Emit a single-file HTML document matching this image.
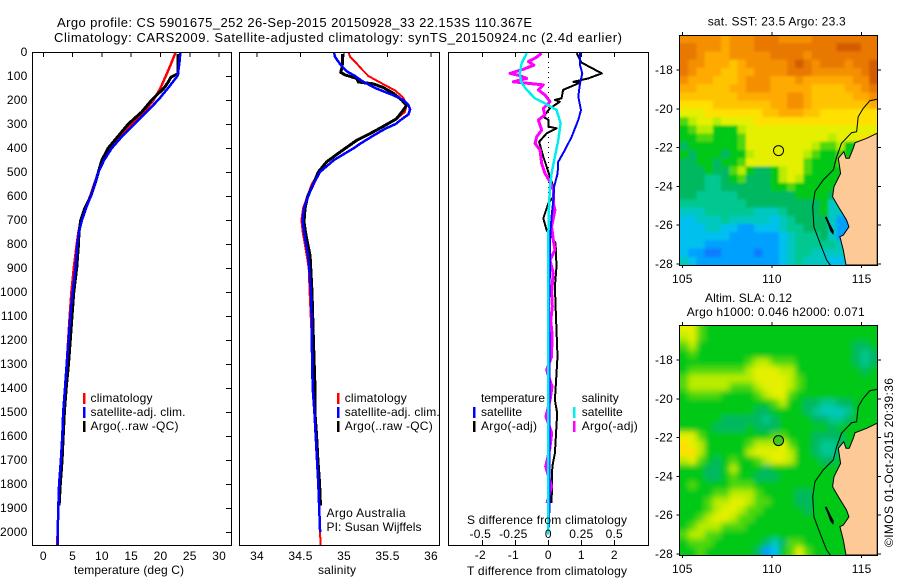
<!DOCTYPE html>
<html>
<head>
<meta charset="utf-8">
<title>Argo profile</title>
<style>
html,body{margin:0;padding:0;background:#fff;}
svg{display:block;font-family:"Liberation Sans",sans-serif;font-size:12px;fill:#000;}
text{fill:#000;}
</style>
</head>
<body>
<svg id="chart" xmlns="http://www.w3.org/2000/svg" width="900" height="580" viewBox="0 0 900 580">
<rect x="0" y="0" width="900" height="580" fill="#fff"/>
<defs>
<clipPath id="clip-t"><rect x="32" y="52" width="199" height="493"/></clipPath>
<clipPath id="clip-s"><rect x="239" y="52" width="200" height="493"/></clipPath>
<clipPath id="clip-d"><rect x="448" y="52" width="200" height="493"/></clipPath>
<clipPath id="clip-m1"><rect x="680" y="35" width="198" height="230"/></clipPath>
<clipPath id="clip-m2"><rect x="680" y="325" width="198" height="230"/></clipPath>
<filter id="blur-sst" x="-5%" y="-5%" width="110%" height="110%"><feGaussianBlur stdDeviation="1.3"/></filter>
<filter id="blur-sla" x="-5%" y="-5%" width="110%" height="110%"><feGaussianBlur stdDeviation="3"/></filter>
</defs>
<text x="57" y="27" font-size="13" textLength="475" lengthAdjust="spacing">Argo profile: CS 5901675_252 26-Sep-2015 20150928_33 22.153S 110.367E</text>
<text x="54" y="42" font-size="13" textLength="568" lengthAdjust="spacing">Climatology: CARS2009. Satellite-adjusted climatology: synTS_20150924.nc (2.4d earlier)</text>
<g id="map1"></g>
<g id="map2"></g>
<g id="p1"></g>
<g id="p2"></g>
<g id="p3"></g>
<text x="74" y="574" textLength="110" lengthAdjust="spacing">temperature (deg C)</text>
<text x="318" y="574" textLength="38" lengthAdjust="spacing">salinity</text>
<text x="467" y="575" textLength="160" lengthAdjust="spacing">T difference from climatology</text>
<text x="467" y="524" textLength="160" lengthAdjust="spacing">S difference from climatology</text>
<g>
<rect x="83" y="393" width="2.5" height="11" fill="#f00"/><text x="90.5" y="402" textLength="62">climatology</text>
<rect x="83" y="407" width="2.5" height="11" fill="#00f"/><text x="90.5" y="416" textLength="95">satellite-adj. clim.</text>
<rect x="83" y="421" width="2.5" height="11" fill="#000"/><text x="90.5" y="430" textLength="88">Argo(..raw -QC)</text>
</g>
<g>
<rect x="337" y="393" width="2.5" height="11" fill="#f00"/><text x="344.7" y="402" textLength="62">climatology</text>
<rect x="337" y="407" width="2.5" height="11" fill="#00f"/><text x="344.7" y="416" textLength="95">satellite-adj. clim.</text>
<rect x="337" y="421" width="2.5" height="11" fill="#000"/><text x="344.7" y="430" textLength="88">Argo(..raw -QC)</text>
</g>
<text x="326.5" y="517" textLength="79">Argo Australia</text>
<text x="326.5" y="531" textLength="95">PI: Susan Wijffels</text>
<g>
<text x="481" y="402" textLength="64">temperature</text>
<rect x="473" y="407" width="2.5" height="11" fill="#00f"/><text x="481" y="416" textLength="41">satellite</text>
<rect x="473" y="421" width="2.5" height="11" fill="#000"/><text x="481" y="430" textLength="56">Argo(-adj)</text>
<text x="581.7" y="402" textLength="37">salinity</text>
<rect x="573" y="407" width="2.5" height="11" fill="#0ee"/><text x="581.7" y="416" textLength="41">satellite</text>
<rect x="573" y="421" width="2.5" height="11" fill="#f0f"/><text x="581.7" y="430" textLength="56">Argo(-adj)</text>
</g>
<text x="707.7" y="25.5" textLength="138">sat. SST: 23.5 Argo: 23.3</text>
<text x="705" y="302" textLength="87">Altim. SLA: 0.12</text>
<text x="686.7" y="316" textLength="178">Argo h1000: 0.046 h2000: 0.071</text>
<text transform="translate(893,547) rotate(-90)" textLength="169">©IMOS 01-Oct-2015 20:39:36</text>
</svg>
<script>
const tempTicks = [0, 5, 10, 15, 20, 25, 30];
const salTicks = [34, 34.5, 35, 35.5, 36];
const depthTicks = [0,100,200,300,400,500,600,700,800,900,1000,1100,1200,1300,1400,1500,1600,1700,1800,1900,2000];
const tDiffTicks = [-2, -1, 0, 1, 2];
const sDiffTicks = [-0.5, -0.25, 0, 0.25, 0.5];
const sDiffTickLabels = ['-0.5', '-0.25', '0', '0.25', '0.5'];
const lonTicks = [105, 110, 115];
const latTicks = [-18, -20, -22, -24, -26, -28];

const climDepth = [0,50,100,150,200,250,300,350,400,450,500,550,600,650,700,750,800,900,1000,1100,1200,1300,1400,1500,1600,1700,1800,1900,2000,2055];
const tempClim = [22.6,21.8,20.9,20.0,18.8,17.2,15.1,13.1,11.4,10.2,9.4,8.7,8.0,7.2,6.5,6.0,5.7,5.2,4.8,4.5,4.25,4.0,3.7,3.4,3.24,3.0,2.7,2.56,2.45,2.35];
const tempSat = [23.4,23.2,22.9,21.3,19.6,17.6,15.6,13.5,11.7,10.4,9.4,8.8,8.1,7.3,6.6,6.1,5.8,5.5,5.0,4.6,4.3,4.0,3.7,3.4,3.24,3.0,2.7,2.56,2.45,2.45];
const tempSatDepth = climDepth;
const argoTDepth = [8,60,90,105,130,150,200,250,300,350,400,450,500,550,600,650,700,750,800,900,1000,1100,1200,1300,1400,1500,1600,1700,1800,1890];
const tempArgo = [23.0,23.0,23.0,21.8,21.2,20.6,18.5,16.8,14.5,12.8,11.1,10.0,9.4,8.8,8.1,7.1,6.4,6.1,6.0,5.7,5.2,4.9,4.6,4.3,3.9,3.6,3.4,3.2,2.9,2.7];

const salSatDepth = [0,20,50,80,100,120,150,180,200,220,240,260,280,300,320,350,380,400,450,500,550,600,650,700,750,800,850,900,1000,1100,1200,1300,1400,1500,1600,1700,1800,1900,2000];
const salSat = [34.885,34.897,34.954,35.03,35.126,35.203,35.356,35.567,35.682,35.74,35.76,35.74,35.663,35.594,35.471,35.33,35.195,35.115,34.885,34.724,34.648,34.59,34.54,34.525,34.54,34.563,34.586,34.6,34.62,34.628,34.63,34.635,34.64,34.66,34.675,34.69,34.705,34.715,34.725];
const salClimDepth = [0,20,40,70,100,130,160,190,220,250,280,300,350,400,450,500,550,600,650,700,750,800,900,1000,1200,1400,1600,1800,2000,2055];
const salClim = [35.05,35.07,35.126,35.2,35.28,35.43,35.586,35.68,35.72,35.7,35.6,35.51,35.24,35.01,34.82,34.717,34.63,34.58,34.53,34.51,34.525,34.55,34.594,34.605,34.63,34.64,34.675,34.705,34.725,34.73];
const argoSDepth = [8,40,70,85,95,110,125,133,148,172,200,222,242,278,306,333,368,417,458,500,550,603,653,708,764,850,1000,1200,1400,1500,1600,1700,1800,1890];
const salArgo = [34.985,34.985,34.973,34.962,35.01,35.146,35.165,35.337,35.452,35.567,35.663,35.72,35.682,35.605,35.471,35.337,35.146,34.954,34.8,34.705,34.648,34.58,34.552,34.54,34.563,34.61,34.632,34.648,34.667,34.665,34.685,34.7,34.72,34.73];

const tDiffSatDepth = [5,54,89,131,186,242,283,353,408,458,506,561,617,686,783,922,1061,1300,1600,1880,2000];
const tDiffSat = [0.96,0.96,1.03,0.96,0.91,0.99,0.91,0.71,0.505,0.3,0.283,0.18,0.15,0.1,0.05,0.05,0.02,0.04,0.03,0.04,0.01];
const tDiffArgoDepth = [5,33,44,89,110,124,128,158,193,200,207,235,269,283,311,318,339,374,436,519,561,603,631,693,742,769,797,894,978,1061,1269,1450,1505,1672,1727,1880];
const tDiffArgo = [0.86,0.96,1.01,1.62,1.21,0.76,0.96,0.45,0.4,0.2,0.35,0.05,-0.15,0,0,0.25,-0.05,-0.28,-0.15,0.05,0.15,0.15,0,-0.15,-0.05,0.1,0.22,0.25,0.2,0.22,0.28,0.2,0.27,0.2,0.12,0.1];
const sDiffSatDepth = [5,47,89,124,158,193,214,242,297,367,436,506,561,644,783,1061,1500,2010];
const sDiffSat = [-0.164,-0.202,-0.215,-0.207,-0.164,-0.101,-0.025,0.063,0.093,0.076,0.05,0.025,0.013,0.005,0,0,0,0];
const sDiffArgoDepth = [5,22,40,55,70,89,98,110,124,137,158,179,207,235,262,283,325,353,381,408,464,506,540,575,631,658,728,783,825,867,922,1000,1061,1120,1172,1269,1325,1394,1450,1519,1588,1650,1727,1810,1880];
const sDiffArgo = [-0.05,-0.09,-0.15,-0.11,-0.18,-0.29,-0.22,-0.164,-0.265,-0.038,-0.076,-0.025,0.013,-0.038,-0.025,-0.076,-0.05,-0.088,-0.1,-0.063,-0.05,-0.025,0.013,0.038,0.038,0.05,0.025,0.038,0.05,0.013,0.038,0.025,0.03,0.018,0.028,0.025,-0.013,0.028,0.014,-0.018,0.026,0.012,-0.02,0.024,-0.01];

const colourLevels = ['#0a7cff','#00a0ff','#00c0f0','#00c8c0','#00c890','#00b860','#00c818','#50d80c','#b8ec00','#e4f000','#ffe000','#ffc400','#ffaa00','#f49000','#e87800','#d45c00'];
const sstGrid = [
[13,13,13,13,13,12,13,13,13,14,14,14,13,13,13,13,14,14,14,14,14,14,14,14],
[14,14,13,13,13,12,13,13,13,14,14,14,14,14,14,14,14,14,14,15,15,15,14,14],
[14,14,13,12,12,12,13,13,13,13,13,14,14,14,14,13,14,14,14,14,14,14,14,14],
[14,13,13,12,12,12,11,12,13,13,13,13,13,14,15,14,13,14,14,14,13,14,14,15],
[14,13,12,12,12,11,11,12,12,13,13,13,13,14,14,14,13,13,13,13,13,13,14,15],
[13,12,12,12,11,11,11,12,13,13,13,12,12,12,13,12,12,12,12,12,12,13,13,15],
[12,12,11,11,11,11,12,12,13,13,13,12,12,12,12,12,11,11,11,11,12,12,13,14],
[11,11,11,11,11,11,11,12,12,12,12,12,12,13,13,12,11,11,11,11,11,12,12,13],
[10,10,10,10,11,11,11,11,11,11,11,12,12,13,13,12,11,11,11,11,11,11,11,12],
[9,9,9,10,10,10,10,10,10,10,11,11,12,12,12,11,11,10,10,10,10,10,10,10],
[7,8,9,9,8,9,9,9,9,10,10,10,10,10,10,10,10,10,10,10,10,10,10,10],
[6,7,8,8,6,6,6,8,9,9,9,9,9,9,9,9,9,9,9,9,9,9,9,9],
[6,6,7,7,6,6,6,7,9,9,9,9,9,9,9,9,9,9,8,9,9,9,10,9],
[5,6,6,6,6,6,6,7,9,9,9,9,9,9,9,9,8,7,7,8,6,6,9,9],
[6,5,6,6,6,5,6,6,8,9,9,9,9,9,9,8,7,6,6,7,6,6,8,8],
[5,5,6,6,5,6,6,7,9,9,9,9,9,9,9,7,6,6,6,7,7,6,6,6],
[5,5,5,6,5,5,7,8,6,5,5,6,8,9,9,7,6,6,6,6,6,6,6,6],
[5,5,5,4,4,5,6,7,5,5,5,6,8,9,8,6,6,6,6,6,6,6,6,6],
[5,5,5,4,4,5,5,5,5,5,5,6,6,7,6,6,6,6,6,6,6,6,6,6],
[5,5,4,4,4,4,4,5,5,5,5,5,5,5,6,6,6,6,5,6,3,3,6,6],
[4,4,4,4,4,4,4,4,5,5,5,5,5,5,5,5,5,6,3,3,3,3,3,6],
[3,3,3,4,4,4,4,4,4,3,3,3,4,5,5,5,5,6,3,3,1,3,3,3],
[2,2,3,3,3,4,3,3,3,3,3,2,3,4,5,5,5,5,3,1,1,2,2,3],
[2,2,2,3,3,2,2,1,1,2,2,2,3,4,4,5,5,5,3,1,1,1,1,3],
[2,2,2,2,2,2,1,1,1,1,1,1,2,3,4,4,4,5,3,1,1,1,1,3],
[2,2,2,1,1,1,1,1,1,1,1,1,2,3,4,4,4,4,4,3,3,3,3,3],
[2,1,1,0,0,1,1,1,1,0,1,1,2,3,4,4,3,3,3,3,3,2,3,3],
[3,2,1,1,1,1,1,1,1,1,1,1,2,3,4,3,3,3,2,2,2,1,1,3]
];
const slaGrid = [
[9,9,7,6,6,6,6,6,6,6,6,6,6,6,6,6,6,6,6,6,6,6,6,6],
[8,9,7,6,6,6,6,6,6,6,6,6,6,6,6,6,6,6,6,6,6,6,6,6],
[7,8,6,6,6,6,6,6,6,6,6,6,6,6,6,6,6,6,6,6,6,5,5,6],
[6,7,6,6,6,6,6,6,6,6,6,6,6,6,6,6,6,6,6,6,6,5,4,5],
[6,6,6,6,6,6,6,6,7,8,8,7,7,7,6,6,6,6,6,6,6,5,4,5],
[6,7,7,7,7,7,7,7,8,9,9,9,8,8,6,6,6,6,6,6,6,6,5,6],
[7,8,8,8,8,8,8,8,8,9,9,9,9,8,7,6,6,6,6,6,6,6,6,6],
[7,8,8,8,8,8,7,7,7,8,9,9,9,8,7,6,6,6,6,6,6,6,6,6],
[6,7,7,7,7,6,6,6,6,7,8,9,9,7,6,6,6,6,6,6,6,6,6,6],
[6,6,6,6,6,6,6,6,6,6,6,7,8,6,6,5,5,4,4,5,5,6,6,6],
[6,6,6,6,6,6,6,6,6,5,5,6,6,6,6,5,4,3,3,3,4,6,6,6],
[6,6,6,6,6,5,5,5,5,5,4,5,6,6,6,6,5,5,4,4,5,6,6,6],
[6,6,6,6,5,5,5,5,6,5,5,5,6,6,6,6,6,6,5,6,6,6,6,6],
[9,9,7,6,6,6,6,6,6,6,6,7,7,6,6,6,5,5,5,5,6,6,6,6],
[10,9,8,6,6,6,6,6,7,8,8,8,9,7,6,6,5,4,4,5,6,6,6,6],
[10,10,8,6,6,6,6,6,8,9,9,9,9,8,6,6,5,4,4,5,6,6,6,6],
[8,9,7,6,5,6,7,6,6,7,8,9,9,8,6,6,6,5,5,6,6,6,6,6],
[6,6,6,5,5,6,8,6,6,6,5,6,6,6,6,6,6,6,6,6,6,6,6,6],
[6,6,6,5,5,6,7,6,6,5,5,5,6,6,6,6,6,6,6,6,6,6,6,6],
[6,7,6,6,6,6,7,7,7,6,6,6,6,6,6,6,6,6,6,6,6,6,6,6],
[6,6,6,6,7,7,8,8,8,7,6,6,6,6,5,5,6,6,6,6,6,6,6,6],
[6,6,6,7,8,8,9,9,8,7,7,6,6,6,5,5,6,6,6,6,6,6,6,6],
[6,6,6,7,8,9,9,8,7,7,6,6,6,6,6,5,6,6,6,6,6,6,6,6],
[6,6,7,8,9,9,8,7,7,6,6,6,6,6,6,6,6,6,6,6,6,6,6,6],
[6,7,8,8,8,7,7,7,6,6,6,6,6,6,6,6,6,6,6,6,6,6,6,6],
[7,8,8,7,7,6,6,6,6,6,6,6,6,6,6,6,6,6,6,6,6,6,6,6],
[6,7,7,7,6,6,6,6,6,6,5,3,5,7,7,6,6,6,6,6,6,6,6,6],
[6,6,7,6,6,6,6,6,6,5,1,2,6,7,9,7,6,6,6,6,6,6,6,6]
];
const landLon = [115.87,115.28,114.63,114.53,114.31,114.13,114.01,113.70,113.83,113.46,113.38,113.70,114.16,114.29,113.98,113.79,113.98,114.13,115.87];
const landLat = [-21.26,-21.52,-21.75,-22.04,-22.55,-22.55,-22.21,-22.55,-23.33,-24.01,-24.53,-25.04,-25.73,-26.08,-26.51,-26.59,-27.28,-28.05,-28.05];
const contourLon = [115.87,115.46,115.09,114.81,114.72,114.44,113.88,113.61,113.42,112.86,112.40,112.27,112.34,112.68,113.05,113.29];
const contourLat = [-19.51,-19.58,-19.98,-20.41,-21.18,-21.23,-21.78,-22.47,-23.15,-23.67,-24.27,-25.04,-26.08,-26.93,-27.79,-28.10];
const islandLon = [112.95,113.05,113.25,113.45,113.42,113.25,113.1];
const islandLat = [-25.6,-25.55,-25.95,-26.3,-26.5,-26.3,-25.9];
const floatLon = 110.367;
const floatLat = -22.153;

const NS = 'http://www.w3.org/2000/svg';
function mk(parent, tag, attrs) {
  const el = document.createElementNS(NS, tag);
  for (const k in attrs) el.setAttribute(k, attrs[k]);
  parent.appendChild(el);
  return el;
}
const yD = d => 52 + d * 0.24;
const xTemp = t => 43.3 + t * 5.86;
const xSal = s => 257 + (s - 34) * 87;
const xTD = v => 548.3 + v * 33;
const xSD = v => 548.3 + v * 132;

function drawLine(parent, clipId, xs, ys, xf, colour, width, name) {
  const pts = xs.map((v, i) => xf(v).toFixed(1) + ',' + yD(ys[i]).toFixed(1)).join(' ');
  const line = mk(parent, 'polyline', {points: pts, fill: 'none', stroke: colour, 'stroke-width': width, 'clip-path': 'url(#' + clipId + ')', 'shape-rendering': 'crispEdges', 'stroke-linejoin': 'round'});
  
  
}
function frame(parent, x, y, w, h, name) {
  const box = mk(parent, 'rect', {x: x, y: y, width: w, height: h, fill: 'none', stroke: '#000', 'stroke-width': 1, 'shape-rendering': 'crispEdges'});
  
  
}
function tickLine(parent, x1, y1, x2, y2) {
  const t = mk(parent, 'line', {x1: x1, y1: y1, x2: x2, y2: y2, stroke: '#000', 'stroke-width': 1, 'shape-rendering': 'crispEdges'});
  
  
}
function label(parent, x, y, str, anchor) {
  const t = mk(parent, 'text', {x: x, y: y, 'text-anchor': anchor, 'letter-spacing': '0.2'});
  t.textContent = str;
  
  
}

const p1 = document.getElementById('p1');
const p2 = document.getElementById('p2');
const p3 = document.getElementById('p3');

drawLine(p1, 'clip-t', tempClim, climDepth, xTemp, '#f00', 2.5, 'temperature-climatology-line');
drawLine(p1, 'clip-t', tempArgo, argoTDepth, xTemp, '#000', 3, 'temperature-argo-line');
drawLine(p1, 'clip-t', tempSat, tempSatDepth, xTemp, '#00f', 2.5, 'temperature-satellite-line');
frame(p1, 32.5, 52.5, 199, 493, 'temperature-plot-frame');
tempTicks.forEach(v => {
  tickLine(p1, xTemp(v), 52, xTemp(v), 57);
  label(p1, xTemp(v), 560, String(v), 'middle');
});
depthTicks.forEach(d => {
  tickLine(p1, 226, yD(d) + 0.5, 231, yD(d) + 0.5);
  label(p1, 27.5, yD(d) + 4, String(d), 'end');
});

drawLine(p2, 'clip-s', salClim, salClimDepth, xSal, '#f00', 2, 'salinity-climatology-line');
drawLine(p2, 'clip-s', salArgo, argoSDepth, xSal, '#000', 3, 'salinity-argo-line');
drawLine(p2, 'clip-s', salSat, salSatDepth, xSal, '#00f', 2.5, 'salinity-satellite-line');
frame(p2, 239.5, 52.5, 200, 493, 'salinity-plot-frame');
salTicks.forEach(v => {
  tickLine(p2, xSal(v), 52, xSal(v), 57);
  label(p2, xSal(v), 560, String(v), 'middle');
});

const zeroLine = mk(p3, 'line', {x1: xTD(0), y1: 52, x2: xTD(0), y2: 200, stroke: '#000', 'stroke-width': 1, 'stroke-dasharray': '1 4', 'shape-rendering': 'crispEdges'});


drawLine(p3, 'clip-d', tDiffArgo, tDiffArgoDepth, xTD, '#000', 2, 'temperature-difference-argo-line');
drawLine(p3, 'clip-d', sDiffArgo, sDiffArgoDepth, xSD, '#f0f', 3, 'salinity-difference-argo-line');
drawLine(p3, 'clip-d', tDiffSat, tDiffSatDepth, xTD, '#00f', 2, 'temperature-difference-satellite-line');
drawLine(p3, 'clip-d', sDiffSat, sDiffSatDepth, xSD, '#0ee', 2.5, 'salinity-difference-satellite-line');
frame(p3, 448.5, 52.5, 200, 493, 'difference-plot-frame');
tDiffTicks.forEach(v => {
  tickLine(p3, xTD(v), 52, xTD(v), 57);
  tickLine(p3, xTD(v), 540, xTD(v), 545);
  label(p3, xTD(v) - (v < 0 ? 2 : 0), 559, String(v), 'middle');
});
sDiffTicks.forEach((v, i) => {
  label(p3, xSD(v) - (v < 0 ? 2 : 0), 538, sDiffTickLabels[i], 'middle');
});

function drawMap(id, grid, top, clipId, lonLabelY, dotFill, blurId) {
  const g = document.getElementById(id);
  const left = 680, width = 197.5, height = 230, overhang = 12;
  const xL = lon => 682.3 + (lon - 105) * 17.93;
  const yL = lat => top + 35 + (-18 - lat) * 19.4;
  const cw = width / grid[0].length, ch = height / grid.length;
  const wrap = mk(g, 'g', {'clip-path': 'url(#' + clipId + ')'});
  
  
  const cells = mk(wrap, 'g', {filter: 'url(#' + blurId + ')'});
  
  
  grid.forEach((row, r) => {
    row.forEach((v, c) => {
      const xa = left + c * cw - (c === 0 ? overhang : 0);
      const xb = left + (c + 1) * cw + (c === row.length - 1 ? overhang : 0.5);
      const ya = top + r * ch - (r === 0 ? overhang : 0);
      const yb = top + (r + 1) * ch + (r === grid.length - 1 ? overhang : 0.5);
      const cell = mk(cells, 'rect', {x: xa.toFixed(2), y: ya.toFixed(2), width: (xb - xa).toFixed(2), height: (yb - ya).toFixed(2), fill: colourLevels[v]});
      
      
    });
  });
  const land = mk(g, 'polygon', {points: landLon.map((v, i) => xL(v).toFixed(1) + ',' + yL(landLat[i]).toFixed(1)).join(' '), fill: '#fdc996', stroke: '#000', 'stroke-width': 1, 'clip-path': 'url(#' + clipId + ')'});
  
  
  const contour = mk(g, 'polyline', {points: contourLon.map((v, i) => xL(v).toFixed(1) + ',' + yL(contourLat[i]).toFixed(1)).join(' '), fill: 'none', stroke: '#000', 'stroke-width': 1, 'clip-path': 'url(#' + clipId + ')'});
  
  
  const island = mk(g, 'polygon', {points: islandLon.map((v, i) => xL(v).toFixed(1) + ',' + yL(islandLat[i]).toFixed(1)).join(' '), fill: '#000', 'clip-path': 'url(#' + clipId + ')'});
  
  
  const dot = mk(g, 'circle', {cx: xL(floatLon), cy: yL(floatLat), r: 5, fill: dotFill, stroke: '#000', 'stroke-width': 1});
  
  
  frame(g, 679.5, top + 0.5, 198, 230, id + '-frame');
  lonTicks.forEach(v => {
    tickLine(g, xL(v), top - 3, xL(v), top);
    tickLine(g, xL(v), top + 230, xL(v), top + 233);
    label(g, xL(v), lonLabelY, String(v), 'middle');
  });
  latTicks.forEach(v => {
    tickLine(g, 676.5, yL(v), 679.5, yL(v));
    tickLine(g, 878, yL(v), 881, yL(v));
    label(g, 673, yL(v) + 4, String(v), 'end');
  });
}
drawMap('map1', sstGrid, 35, 'clip-m1', 283, 'none', 'blur-sst');
drawMap('map2', slaGrid, 325, 'clip-m2', 573, '#40c820', 'blur-sla');
</script>
</body>
</html>
